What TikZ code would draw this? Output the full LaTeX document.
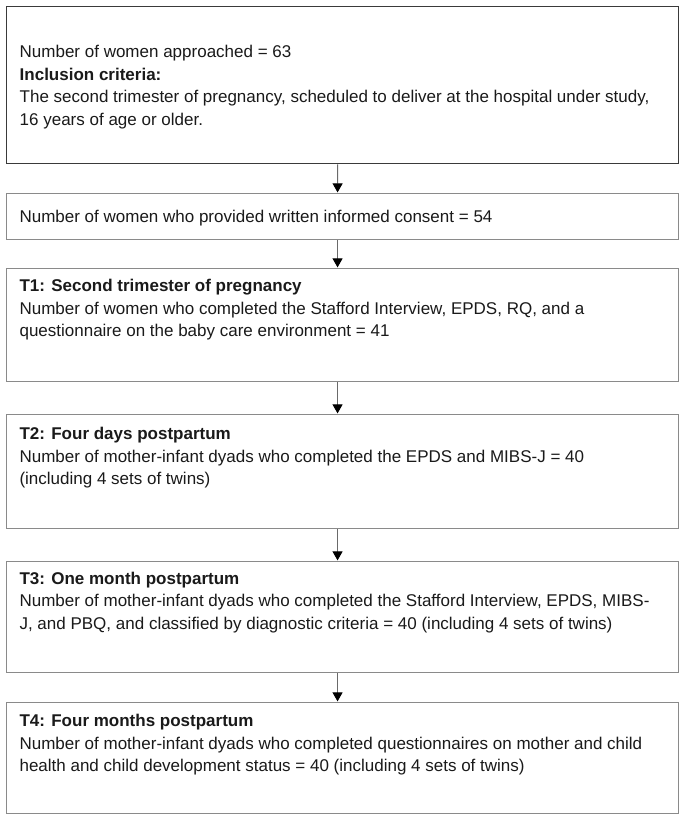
\documentclass[tikz,border=0pt]{standalone}
\usepackage{fontspec}
\setmainfont{Liberation Sans}
\usetikzlibrary{arrows.meta}
\definecolor{boxdark}{HTML}{3A3A3A}
\definecolor{boxgray}{HTML}{8A8A8A}
\definecolor{arrgray}{HTML}{6A6A6A}
\definecolor{txt}{HTML}{1A1A1A}
\newcommand\bxt[3]{\parbox[c][#1pt][t]{672pt}{\leftskip=13pt\rightskip=0pt plus 1fil\parindent=0pt\hyphenpenalty=10000\exhyphenpenalty=10000\fontsize{17}{22.5}\selectfont\vspace*{#2pt}#3}}
\begin{document}
\begin{tikzpicture}[x=1pt,y=-1pt,
  box/.style={draw=boxgray, line width=1.1pt, rectangle, inner sep=0pt, anchor=north west, text=txt},
  firstbox/.style={box, draw=boxdark, line width=1.4pt},
  link/.style={draw=arrgray, line width=1pt, shorten >=0.6pt, -{Triangle[width=10pt,length=9pt,color=black]}}]
\fill[white] (0,0) rectangle (685,822);
\useasboundingbox (0,0) rectangle (685,822);
\node[firstbox] (b1) at (6,6) {\bxt{157}{38.5}{Number of women approached = 63\\
\textbf{Inclusion criteria:}\\
The second trimester of pregnancy, scheduled to deliver at the hospital under study,\\
16 years of age or older.}};
\node[box] (b2) at (6,193) {\bxt{46}{16.5}{Number of women who provided written informed consent = 54}};
\node[box] (b3) at (6,268) {\bxt{113}{11}{\textbf{T1: Second trimester of pregnancy}\\
Number of women who completed the Stafford Interview, EPDS, RQ, and a\\
questionnaire on the baby care environment = 41}};
\node[box] (b4) at (6,414) {\bxt{114}{13}{\textbf{T2: Four days postpartum}\\
Number of mother-infant dyads who completed the EPDS and MIBS-J = 40\\
(including 4 sets of twins)}};
\node[box] (b5) at (6,561) {\bxt{111}{10.5}{\textbf{T3: One month postpartum}\\
Number of mother-infant dyads who completed the Stafford Interview, EPDS, MIBS-\\
J, and PBQ, and classified by diagnostic criteria = 40 (including 4 sets of twins)}};
\node[box] (b6) at (6,702) {\bxt{111}{12}{\textbf{T4: Four months postpartum}\\
Number of mother-infant dyads who completed questionnaires on mother and child\\
health and child development status = 40 (including 4 sets of twins)}};
\draw[link] ([xshift=-5pt]b1.south) -- ([xshift=-5pt]b2.north);
\draw[link] ([xshift=-5pt]b2.south) -- ([xshift=-5pt]b3.north);
\draw[link] ([xshift=-5pt]b3.south) -- ([xshift=-5pt]b4.north);
\draw[link] ([xshift=-5pt]b4.south) -- ([xshift=-5pt]b5.north);
\draw[link] ([xshift=-5pt]b5.south) -- ([xshift=-5pt]b6.north);
\end{tikzpicture}
\end{document}
